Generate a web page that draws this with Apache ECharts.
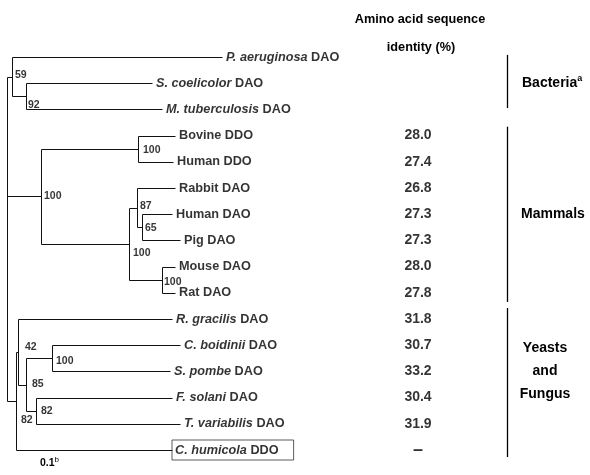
<!DOCTYPE html>
<html>
<head>
<meta charset="utf-8">
<script src="https://cdn.jsdelivr.net/npm/echarts@6/dist/echarts.min.js"></script>
<style>
  html, body { margin: 0; padding: 0; background: #fff; }
  #chartTree { width: 590px; height: 475px; }
</style>
</head>
<body>
<div id="chartTree"></div>
<script>
// leaves, top to bottom (row index = position in array)
const leafGenus = ['P. aeruginosa', 'S. coelicolor', 'M. tuberculosis', '', '', '', '', '', '', '',
  'R. gracilis', 'C. boidinii', 'S. pombe', 'F. solani', 'T. variabilis', 'C. humicola']
const leafName = ['DAO', 'DAO', 'DAO', 'Bovine DDO', 'Human DDO', 'Rabbit DAO', 'Human DAO', 'Pig DAO',
  'Mouse DAO', 'Rat DAO', 'DAO', 'DAO', 'DAO', 'DAO', 'DAO', 'DDO']
const leafDepth = [215, 145, 155, 168, 166, 168, 165, 173, 168, 168, 165, 173, 163, 165, 173, 165]
const identity = ['', '', '', '28.0', '27.4', '26.8', '27.3', '27.3', '28.0', '27.8',
  '31.8', '30.7', '33.2', '30.4', '31.9', '–']

// internal nodes; children are leaf rows (numbers) or node ids
const nodeId = ['root', 'bac', 'sm', 'mam', 'ddo', 'dao', 'rhp', 'hp', 'mr', 'yea', 'y42', 'y85', 'cs', 'ft']
const nodeDepth = [0, 5, 19, 34, 131, 122, 130, 135, 155, 9, 11, 19, 45, 29]
const nodeChildren = [['bac', 'mam', 'yea'], [0, 'sm'], [1, 2], ['ddo', 'dao'], [3, 4], ['rhp', 'mr'],
  [5, 'hp'], [6, 7], [8, 9], ['y42', 15], [10, 'y85'], ['cs', 'ft'], [11, 12], [13, 14]]
const nodeSupport = ['', '59', '92', '100', '100', '100', '87', '65', '100', '82', '42', '85', '100', '82']

// taxonomic groups (row ranges)
const groupName = ['Bacteria', 'Mammals', 'Yeasts\nand\nFungus']
const groupFirst = [0, 3, 10]
const groupLast = [2, 9, 15]

// ---- layout / style only ----
const FONT = '"Liberation Sans", Arial, Helvetica, sans-serif'
const INK = '#000'
const supportShift = [[0, 0], [3, -2], [2, 9], [3, 0], [5, 1], [4, 9], [3, -2], [3, 1], [2, 2],
  [5, 19], [7, -5], [6, 0], [4, 3], [5, 0]]
const groupPad = [[0.08, -0.05], [0.34, 0.35], [0.42, 0.27]]
const identityX = 411
const groupBarX = 500

// node row positions (midpoint of first and last child)
const depthOf = c => typeof c === 'number' ? leafDepth[c] : nodeDepth[nodeId.indexOf(c)]
const rowOf = c => {
  if (typeof c === 'number') return c
  const k = nodeId.indexOf(c)
  const ch = nodeChildren[k]
  return (rowOf(ch[0]) + rowOf(ch[ch.length - 1])) / 2
}

// branch segments [x1, y1, x2, y2]
const segments = []
nodeId.forEach((id, k) => {
  const ch = nodeChildren[k]
  const d = nodeDepth[k]
  segments.push([d, rowOf(ch[0]), d, rowOf(ch[ch.length - 1])])
  ch.forEach(c => segments.push([d, rowOf(c), depthOf(c), rowOf(c)]))
})

const crisp = v => Math.round(v) + 0.5

const chartDom = document.getElementById('chartTree')
const myChart = echarts.init(chartDom)

const option = {
  animation: false,
  grid: { left: 7, right: 0, top: 57, bottom: 25 },
  xAxis: { type: 'value', min: 0, max: 583, show: false },
  yAxis: { type: 'value', min: 0, max: 15, inverse: true, show: false },
  graphic: [
    {
      type: 'text',
      style: { text: 'Amino acid sequence', x: 420, y: 19, textAlign: 'center', textVerticalAlign: 'middle',
        font: 'bold 12.7px ' + FONT, fill: INK }
    },
    {
      type: 'text',
      style: { text: 'identity (%)', x: 421, y: 47, textAlign: 'center', textVerticalAlign: 'middle',
        font: 'bold 12.7px ' + FONT, fill: INK }
    },
    {
      type: 'text',
      style: {
        text: '{n|0.1}{s|b}', x: 40, y: 463, textVerticalAlign: 'middle',
        rich: {
          n: { fontFamily: FONT, fontWeight: 'bold', fontSize: 10.5, fill: INK, lineHeight: 14 },
          s: { fontFamily: FONT, fontSize: 8, fill: INK, verticalAlign: 'top', lineHeight: 14 }
        }
      }
    }
  ],
  series: [
    {
      // tree branches
      type: 'custom',
      silent: true,
      data: segments,
      renderItem: (params, api) => {
        const p1 = api.coord([api.value(0), api.value(1)])
        const p2 = api.coord([api.value(2), api.value(3)])
        return {
          type: 'line',
          shape: { x1: crisp(p1[0]), y1: crisp(p1[1]), x2: crisp(p2[0]), y2: crisp(p2[1]) },
          style: { stroke: '#111', lineWidth: 1 }
        }
      }
    },
    {
      // leaf names
      type: 'scatter',
      silent: true,
      symbolSize: 0,
      data: leafDepth.map((d, i) => {
        const item = { value: [d, i] }
        if (i === 15) {
          item.label = { borderColor: '#333', borderWidth: 1, padding: [4, 15, 3, 3], distance: 0 }
        }
        return item
      }),
      label: {
        show: true,
        position: 'right',
        distance: 4,
        formatter: p => {
          const i = p.dataIndex
          return leafGenus[i] ? `{it|${leafGenus[i]}}{b| ${leafName[i]}}` : `{b|${leafName[i]}}`
        },
        rich: {
          it: { fontFamily: FONT, fontStyle: 'italic', fontWeight: 'bold', fontSize: 12.7, color: INK },
          b: { fontFamily: FONT, fontWeight: 'bold', fontSize: 12.7, color: INK }
        }
      }
    },
    {
      // bootstrap support values
      type: 'scatter',
      silent: true,
      symbolSize: 0,
      data: nodeId.map((id, k) => ({
        value: [nodeDepth[k], rowOf(id), nodeSupport[k]],
        label: { offset: supportShift[k] }
      })).filter(d => d.value[2] !== ''),
      label: {
        show: true,
        position: 'right',
        distance: 0,
        formatter: p => p.value[2],
        fontFamily: FONT, fontWeight: 'bold', fontSize: 10.5, color: INK
      }
    },
    {
      // identity column
      type: 'scatter',
      silent: true,
      symbolSize: 0,
      data: identity.map((v, i) => [identityX, i, v]).filter(d => d[2] !== ''),
      label: {
        show: true,
        position: 'inside',
        formatter: p => p.value[2] === '–' ? '{d|–}' : p.value[2],
        fontFamily: FONT, fontWeight: 'bold', fontSize: 14, color: INK,
        rich: { d: { fontFamily: FONT, fontWeight: 'bold', fontSize: 18, color: INK } }
      }
    },
    {
      // group brackets and names
      type: 'custom',
      silent: true,
      data: groupName.map((n, g) => [groupFirst[g], groupLast[g], g]),
      renderItem: (params, api) => {
        const g = api.value(2)
        const top = api.coord([groupBarX, api.value(0) - groupPad[g][0]])
        const bot = api.coord([groupBarX, api.value(1) + groupPad[g][1]])
        const mid = api.coord([groupBarX, (api.value(0) + api.value(1)) / 2])
        let text
        if (g === 0) {
          text = {
            type: 'text',
            style: {
              text: '{n|' + groupName[g] + '}{s|a}', x: 522, y: mid[1], textVerticalAlign: 'middle',
              rich: {
                n: { fontFamily: FONT, fontWeight: 'bold', fontSize: 14, fill: INK, lineHeight: 18 },
                s: { fontFamily: FONT, fontWeight: 'bold', fontSize: 9, fill: INK, verticalAlign: 'top', lineHeight: 18 }
              }
            }
          }
        } else if (g === 1) {
          text = {
            type: 'text',
            style: { text: groupName[g], x: 521, y: mid[1], textVerticalAlign: 'middle',
              font: 'bold 14px ' + FONT, fill: INK }
          }
        } else {
          text = {
            type: 'text',
            style: { text: groupName[g], x: 545, y: mid[1] - 13, textAlign: 'center', textVerticalAlign: 'middle',
              font: 'bold 14px ' + FONT, fill: INK, lineHeight: 23 }
          }
        }
        return {
          type: 'group',
          children: [
            {
              type: 'line',
              shape: { x1: crisp(top[0]), y1: top[1], x2: crisp(bot[0]), y2: bot[1] },
              style: { stroke: INK, lineWidth: 1.3 }
            },
            text
          ]
        }
      }
    }
  ]
}

option && myChart.setOption(option)
</script>
</body>
</html>
